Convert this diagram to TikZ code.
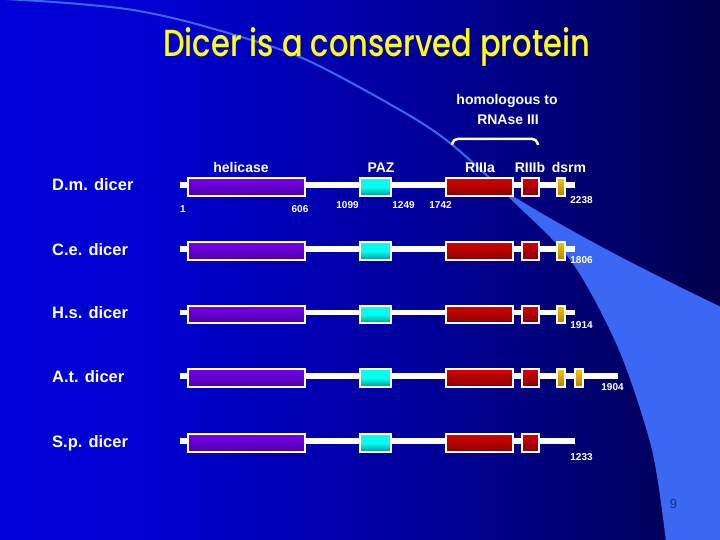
\documentclass[tikz,border=0pt]{standalone}
\usepackage{fontspec}
\setmainfont{Liberation Sans}
\newfontfamily\titlefont{Poppins}[UprightFont={* Medium}]
\usetikzlibrary{shadings}
\definecolor{swoosh}{RGB}{58,104,242}
\definecolor{titleyellow}{RGB}{255,255,20}
\definecolor{heliT}{RGB}{118,0,238}
\definecolor{heliB}{RGB}{78,0,165}
\definecolor{pazT}{RGB}{0,255,240}
\definecolor{pazB}{RGB}{0,150,145}
\definecolor{redT}{RGB}{215,0,0}
\definecolor{redB}{RGB}{135,0,0}
\definecolor{goldT}{RGB}{245,195,0}
\definecolor{goldB}{RGB}{185,125,0}
\definecolor{pagenum}{RGB}{25,40,140}
\pgfdeclarehorizontalshading{bgshade}{100bp}{rgb(0bp)=(0,0,0.93); rgb(35bp)=(0,0,0.82); rgb(55bp)=(0,0,0.6); rgb(75bp)=(0,0,0.3); rgb(90bp)=(0,0,0.12); rgb(100bp)=(0,0,0.02)}
\tikzset{
  backbone/.style={draw=white, line width=5.5pt},
  dom/.style={draw=white, line width=2pt, inner sep=0pt, minimum height=17.4pt, rectangle},
  heli/.style={dom, minimum width=117pt, top color=heliT, bottom color=heliB},
  paz/.style={dom, minimum width=31pt, top color=pazT, bottom color=pazB, middle color=pazT},
  r3a/.style={dom, minimum width=67pt, top color=redT, bottom color=redB},
  r3b/.style={dom, minimum width=17pt, top color=redT, bottom color=redB},
  dsrmbox/.style={dom, minimum width=8pt, top color=goldT, bottom color=goldB},
  rowlabel/.style={text=white, font=\bfseries\fontsize{16.5}{18}\selectfont, anchor=base west, inner sep=0pt},
  domlabel/.style={text=white, font=\bfseries\fontsize{14}{16}\selectfont, anchor=base, inner sep=0pt},
  numlabel/.style={text=white, font=\bfseries\fontsize{10}{12}\selectfont, anchor=base, inner sep=0pt},
}
\begin{document}
\begin{tikzpicture}[x=1pt, y=-1pt]
\useasboundingbox (0,0) rectangle (720,540);
\shade[shading=bgshade] (0,0) rectangle (720,540);
% swoosh
\fill[swoosh] plot[smooth] coordinates {(500,188) (513,200) (573,262) (620,350) (653,450) (667,541)}
  -- (721,541) -- (721,307) .. controls (640,268) and (570,232) .. (500,188) -- cycle;
\draw[swoosh, line width=2pt] plot[smooth] coordinates {(5,-1) (67,3) (133,10) (200,25) (300,57) (400,110) (450,143) (513,200) (573,262) (620,350) (653,450) (667,542)};
% title
\node[anchor=base west, inner sep=0pt, text=titleyellow] (title) at (163,57)
  {\resizebox{427pt}{29pt}{\titlefont Dicer is a conserved protein}};
% homologous bracket
\node[domlabel] (hom1) at (507,105) {homologous to};
\node[domlabel] (hom2) at (508,125) {RNAse III};
\coordinate (brL) at (452,145);
\coordinate (brR) at (538,145);
\draw[white, line width=2.5pt, rounded corners=4pt] (brL) -- ++(1.5,-6) -- (536.5,139) -- (brR);
% domain labels
\node[domlabel] (lhel) at (241,172.5) {helicase};
\node[domlabel] (lpaz) at (381,172.5) {PAZ};
\node[domlabel] (lr3a) at (480,172.5) {RIIIa};
\node[domlabel] (lr3b) at (530,172.5) {RIIIb};
\node[domlabel] (ldsrm) at (569,172.5) {dsrm};
% row 1 D.m.
\node[rowlabel] (n1) at (52,191) {D.m. dicer};
\coordinate (s1) at (180,185); \coordinate (e1) at (575,185);
\draw[backbone] (s1) -- (e1);
\node[heli] (h1) at (246.5,187) {};
\node[paz] (p1) at (375.5,187) {};
\node[r3a] (a1) at (479.5,187) {};
\node[r3b] (b1) at (530.5,187) {};
\node[dsrmbox] (d1) at (561,187) {};
\node[numlabel] (k1) at (183,213) {1};
\node[numlabel] (k606) at (300,213) {606};
\node[numlabel] (k1099) at (347.5,209) {1099};
\node[numlabel] (k1249) at (403.5,209) {1249};
\node[numlabel] (k1742) at (440.5,209) {1742};
\node[numlabel] (k2238) at (581.5,204) {2238};
% row 2 C.e.
\node[rowlabel] (n2) at (52,255) {C.e. dicer};
\coordinate (s2) at (180,249); \coordinate (e2) at (575,249);
\draw[backbone] (s2) -- (e2);
\node[heli] (h2) at (246.5,251) {};
\node[paz] (p2) at (375.5,251) {};
\node[r3a] (a2) at (479.5,251) {};
\node[r3b] (b2) at (530.5,251) {};
\node[dsrmbox] (d2) at (561,251) {};
\node[numlabel] (k1806) at (581.5,263.5) {1806};
% row 3 H.s.
\node[rowlabel] (n3) at (52,318.5) {H.s. dicer};
\coordinate (s3) at (180,312.5); \coordinate (e3) at (575,312.5);
\draw[backbone] (s3) -- (e3);
\node[heli] (h3) at (246.5,314.5) {};
\node[paz] (p3) at (375.5,314.5) {};
\node[r3a] (a3) at (479.5,314.5) {};
\node[r3b] (b3) at (530.5,314.5) {};
\node[dsrmbox] (d3) at (561,314.5) {};
\node[numlabel] (k1914) at (581.5,328) {1914};
% row 4 A.t.
\node[rowlabel] (n4) at (52,382) {A.t. dicer};
\coordinate (s4) at (180,376); \coordinate (e4) at (618,376);
\draw[backbone] (s4) -- (e4);
\node[heli] (h4) at (246.5,378) {};
\node[paz] (p4) at (375.5,378) {};
\node[r3a] (a4) at (479.5,378) {};
\node[r3b] (b4) at (530.5,378) {};
\node[dsrmbox] (d4) at (561,378) {};
\node[dsrmbox] (d4b) at (579,378) {};
\node[numlabel] (k1904) at (612.5,390) {1904};
% row 5 S.p.
\node[rowlabel] (n5) at (52,447) {S.p. dicer};
\coordinate (s5) at (180,441); \coordinate (e5) at (575,441);
\draw[backbone] (s5) -- (e5);
\node[heli] (h5) at (246.5,443) {};
\node[paz] (p5) at (375.5,443) {};
\node[r3a] (a5) at (479.5,443) {};
\node[r3b] (b5) at (530.5,443) {};
\node[numlabel] (k1233) at (581.5,460) {1233};
% page number
\node[text=pagenum, font=\fontsize{13}{15}\selectfont, anchor=base, inner sep=0pt] (pg) at (673.5,508) {9};
\end{tikzpicture}
\end{document}
